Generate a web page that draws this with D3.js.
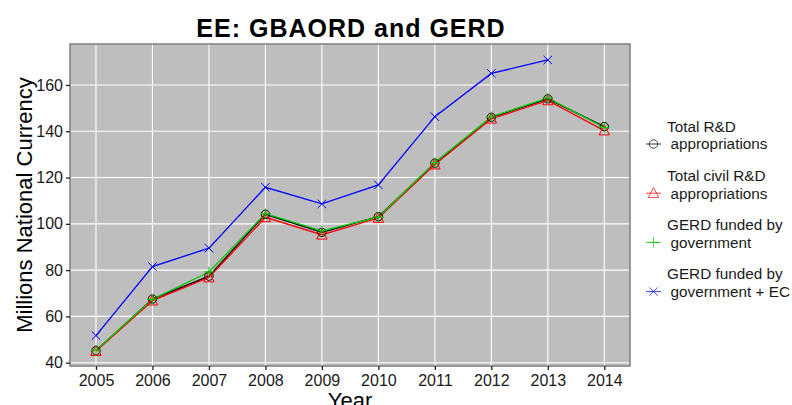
<!DOCTYPE html>
<html><head><meta charset="utf-8">
<script src="https://cdn.jsdelivr.net/npm/d3@7"></script>
<style>body{margin:0;background:#fff}svg{display:block;font-family:"Liberation Sans",Arial,sans-serif}</style>
</head><body>
<svg id="c" width="792" height="405"></svg>
<script>
const years = [2005,2006,2007,2008,2009,2010,2011,2012,2013,2014];
const totalRD = [45.2,67.5,77.4,104.1,96.3,103.1,126.2,146,154,142];
const civilRD = [45,66.8,76.8,102.8,95.3,102.5,125.6,145.4,153.3,140.3];
const gerdGov = [45.4,67.4,79.2,104.4,97,102.9,126.5,146.2,154.4,141.6];
const gerdGovEC = [51.7,81.5,89.5,115.8,108.6,116.8,146.3,165,170.8,null];
const yTicks = [40,60,80,100,120,140,160];
const seriesNames = [["Total R&D","appropriations"],["Total civil R&D","appropriations"],["GERD funded by","government"],["GERD funded by","government + EC"]];
const seriesColors = ["#000000","#FF0000","#00CC00","#0000FF"];
const seriesShapes = ["circle","triangle","plus","cross"];
const seriesData = [totalRD, civilRD, gerdGov, gerdGovEC];

const svg = d3.select("#c");
const L=70, R=630, T=44, B=366;
const x = d3.scaleLinear().domain([2004.54,2014.455]).range([L,R]);
const y = d3.scaleLinear().domain([38.57,177.7]).range([B,T]);

svg.append("rect").attr("x",L).attr("y",T).attr("width",R-L).attr("height",B-T).attr("fill","#BEBEBE");
const g = svg.append("g");
yTicks.forEach(v=>g.append("line").attr("x1",L).attr("x2",R).attr("y1",y(v)).attr("y2",y(v)).attr("stroke","#fff").attr("stroke-width",1.1));
years.forEach(v=>g.append("line").attr("y1",T).attr("y2",B).attr("x1",x(v)).attr("x2",x(v)).attr("stroke","#fff").attr("stroke-width",1.1));
svg.append("rect").attr("x",L).attr("y",T).attr("width",R-L).attr("height",B-T).attr("fill","none").attr("stroke","#7f7f7f").attr("stroke-width",1.5);

const yAxis = svg.append("g").attr("transform",`translate(${L},0)`).call(d3.axisLeft(y).tickValues(yTicks).tickSize(4).tickPadding(3));
const xAxis = svg.append("g").attr("transform",`translate(0,${B})`).call(d3.axisBottom(x).tickValues(years).tickFormat(d3.format("d")).tickSize(4).tickPadding(5));
[yAxis,xAxis].forEach(a=>{a.select(".domain").remove();a.selectAll(".tick line").attr("stroke","#222").attr("stroke-width",1.3);a.selectAll("text").attr("font-size",16).attr("fill","#1a1a1a").attr("font-family","Liberation Sans, Arial, sans-serif");});

function sym(sel, shape, color, cx, cy){
  const s=4.2;
  if(shape==="circle") sel.append("circle").attr("cx",cx).attr("cy",cy).attr("r",s).attr("fill","none").attr("stroke",color).attr("stroke-width",1);
  else if(shape==="triangle"){const h=s*1.15; sel.append("path").attr("d",`M${cx},${cy-h-1}L${cx+s+1},${cy+h-0.5}L${cx-s-1},${cy+h-0.5}Z`).attr("fill","none").attr("stroke",color).attr("stroke-width",1);}
  else if(shape==="plus") sel.append("path").attr("d",`M${cx-s-1},${cy}H${cx+s+1}M${cx},${cy-s-1}V${cy+s+1}`).attr("stroke",color).attr("stroke-width",1).attr("fill","none");
  else sel.append("path").attr("d",`M${cx-s},${cy-s}L${cx+s},${cy+s}M${cx-s},${cy+s}L${cx+s},${cy-s}`).attr("stroke",color).attr("stroke-width",1).attr("fill","none");
}

const line = d3.line().defined(d=>d[1]!=null).x(d=>x(d[0])).y(d=>y(d[1]));
seriesData.forEach((vals,i)=>{
  const pts = years.map((yr,j)=>[yr,vals[j]]);
  svg.append("path").attr("d",line(pts)).attr("fill","none").attr("stroke",seriesColors[i]).attr("stroke-width",1.3);
});
seriesData.forEach((vals,i)=>{
  years.forEach((yr,j)=>{ if(vals[j]!=null) sym(svg,seriesShapes[i],seriesColors[i],x(yr),y(vals[j])); });
});

svg.append("text").attr("x",351).attr("y",37).attr("text-anchor","middle").attr("font-size",25).attr("letter-spacing",1).attr("font-weight","bold").text("EE: GBAORD and GERD");
svg.append("text").attr("transform","translate(32,205) rotate(-90)").attr("text-anchor","middle").attr("font-size",22).attr("fill","#000").text("Millions National Currency");
svg.append("text").attr("x",350).attr("y",407.5).attr("text-anchor","middle").attr("font-size",22).text("Year");

const lg = svg.append("g");
seriesNames.forEach((nm,i)=>{
  const base = 131.5 + i*49.2;
  lg.append("text").attr("x",667).attr("y",base).attr("font-size",15.3).attr("fill","#1a1a1a").text(nm[0]);
  lg.append("text").attr("x",670.5).attr("y",base+17.8).attr("font-size",15.3).attr("fill","#1a1a1a").text(nm[1]);
  const ky = base+12.5;
  const c = d3.color(seriesColors[i]); c.opacity=0.7;
  lg.append("line").attr("x1",646).attr("x2",661).attr("y1",ky).attr("y2",ky).attr("stroke",c+"").attr("stroke-width",1.1);
  sym(lg,seriesShapes[i],c+"",653.5,ky);
});
</script>
</body></html>
